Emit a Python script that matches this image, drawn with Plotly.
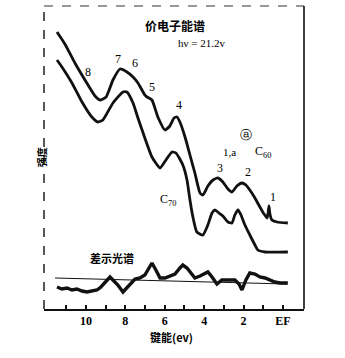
import plotly.graph_objects as go

# Binding energy (eV) and intensity (arb. units)
upper_e = [11.47, 11.07, 10.56, 10.05, 9.54, 9.29, 8.98, 8.63, 8.27, 7.92, 7.61, 7.36, 7.01,
           6.90, 6.65, 6.35, 5.99, 5.74, 5.53, 5.38, 5.23, 4.97, 4.72, 4.47, 4.21, 4.06, 3.81,
           3.55, 3.30, 3.05, 2.79, 2.59, 2.34, 2.08, 1.88, 1.68, 1.42, 1.17, 0.96, 0.81, 0.76,
           0.71, 0.66, 0.56, 0.30, -0.25]
upper_i = [277, 265, 246, 229, 213, 209, 212, 229, 240, 237, 232, 226, 214,
           212, 209, 192, 179, 183, 191, 192, 187, 172, 154, 136, 116, 114, 123,
           129, 131, 127, 120, 117, 123, 126, 124, 119, 111, 102, 95, 91, 95,
           103, 95, 89, 87, 86]

lower_e = [11.47, 11.22, 10.71, 10.20, 9.70, 9.39, 9.14, 8.63, 8.12, 7.92, 7.61, 7.36, 7.01,
           6.65, 6.24, 5.94, 5.63, 5.43, 5.08, 4.87, 4.72, 4.57, 4.37, 4.06, 3.81, 3.60,
           3.45, 3.25, 3.05, 2.79, 2.59, 2.44, 2.28, 2.13, 1.93, 1.68, 1.42, 1.27, 0.91, -0.25]
lower_i = [249, 242, 226, 207, 192, 187, 189, 206, 217, 217, 206, 191, 171,
           152, 141, 149, 157, 156, 144, 129, 109, 92, 77, 74, 84, 96,
           99, 96, 93, 87, 86, 94, 99, 94, 84, 74, 64, 59, 57, 57]

diff_e = [11.47, 11.22, 10.96, 10.71, 10.46, 10.20, 9.95, 9.70, 9.44, 9.24, 9.04, 8.78, 8.58,
          8.38, 8.12, 7.92, 7.72, 7.51, 7.26, 7.01, 6.80, 6.65, 6.45, 6.24, 5.99, 5.74,
          5.48, 5.23, 5.08, 4.87, 4.67, 4.47, 4.21, 3.96, 3.81, 3.60, 3.35, 3.10, 2.79,
          2.44, 2.23, 2.08, 1.88, 1.68, 1.42, 1.17, 0.91, 0.66, 0.41, 0.15, -0.25]
diff_i = [22, 20, 21, 19, 20, 18, 17, 18, 19, 22, 26, 32, 28,
          24, 17, 21, 26, 30, 31, 34, 41, 46, 39, 31, 31, 33,
          35, 41, 44, 41, 36, 31, 33, 36, 37, 32, 25, 29, 29,
          29, 25, 19, 29, 36, 35, 32, 31, 29, 27, 26, 26]

base_e = [11.57, -0.20]
base_i = [31, 25]

major_ticks = [10, 8, 6, 4, 2, 0]
major_text = ["10", "8", "6", "4", "2", "EF"]
minor_ticks = [11, 9, 7, 5, 3, 1]

fig = go.Figure()
fig.add_trace(go.Scatter(x=upper_e, y=upper_i, mode="lines",
                         line=dict(color="#111", width=2.8, shape="spline", smoothing=0.5)))
fig.add_trace(go.Scatter(x=lower_e, y=lower_i, mode="lines",
                         line=dict(color="#111", width=2.8, shape="spline", smoothing=0.5)))
fig.add_trace(go.Scatter(x=base_e, y=base_i, mode="lines",
                         line=dict(color="#111", width=1.1)))
fig.add_trace(go.Scatter(x=diff_e, y=diff_i, mode="lines",
                         line=dict(color="#111", width=3.4)))

serif = "Liberation Serif"
cjk = "Noto Sans CJK SC"

def lab(x, y, t, size=12, font=serif):
    fig.add_annotation(x=x, y=y, text=t, showarrow=False, xref="x", yref="y",
                       font=dict(family=font, size=size, color="#000000"))

lab(9.90, 237, "8")
lab(8.38, 250, "7")
lab(7.51, 246, "6")
lab(6.65, 222, "5")
lab(5.28, 204, "4")
lab(3.20, 141, "3")
lab(1.78, 137, "2")
lab(0.51, 112, "1")
lab(2.69, 157, "1,a", size=11)
lab(1.88, 174, "ⓐ", size=12, font="DejaVu Sans")
lab(1.00, 157, "C<sub>60</sub>", size=12)
lab(5.84, 109, "C<sub>70</sub>", size=12)
lab(8.68, 51, "<b>差示光谱</b>", size=11, font=cjk)
lab(5.50, 284, "<b>价电子能谱</b>", size=12, font=cjk)
lab(4.15, 266, "hν = 21.2v", size=11)

fig.add_annotation(x=-0.045, y=0.50, xref="paper", yref="paper", text="<b>强度</b>",
                   textangle=-90, showarrow=False, font=dict(family=cjk, size=10, color="#000000"))
fig.add_annotation(x=0.49, y=-0.125, xref="paper", yref="paper", text="<b>键能(ev)</b>",
                   showarrow=False, font=dict(family=cjk, size=11, color="#000000"))

# frame: left dashed, top dashed, right solid
fig.add_shape(type="line", xref="paper", yref="paper", x0=0, x1=0, y0=0, y1=1,
              line=dict(color="#222", width=1.5, dash="dash"))
fig.add_shape(type="line", xref="paper", yref="paper", x0=0, x1=1, y0=1, y1=1,
              line=dict(color="#333", width=1.2, dash="dash"))
fig.add_shape(type="line", xref="paper", yref="paper", x0=1, x1=1, y0=0, y1=1,
              line=dict(color="#111", width=1.6))

fig.update_xaxes(range=[12.13, -1.07], tickmode="array", tickvals=major_ticks, ticktext=major_text,
                 ticks="inside", ticklen=4, tickwidth=2, tickcolor="#111",
                 minor=dict(tickmode="array", tickvals=minor_ticks, ticks="inside", ticklen=4,
                            tickwidth=2, tickcolor="#111", showgrid=False),
                 showline=True, linecolor="#111", linewidth=2, showgrid=False, zeroline=False,
                 tickfont=dict(family=serif, size=12, color="#000000", weight="bold"))
fig.update_yaxes(range=[0, 303], showticklabels=False, showgrid=False, zeroline=False,
                 showline=False, ticks="")

fig.update_layout(width=345, height=358, margin=dict(l=44, r=41, t=6, b=49),
                  paper_bgcolor="white", plot_bgcolor="white", showlegend=False)

fig.write_html("out.html")
